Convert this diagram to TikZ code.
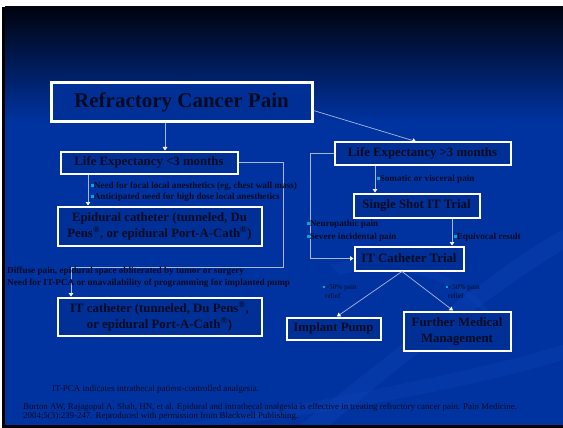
\documentclass[tikz,border=0pt]{standalone}
\usepackage{fontspec}
\setmainfont{Liberation Serif}
\usetikzlibrary{arrows.meta,calc}
\definecolor{bgblue}{HTML}{0033A0}
\definecolor{bgtop}{HTML}{00030E}
\definecolor{txtnavy}{HTML}{050A22}
\definecolor{linec}{HTML}{A8B8DC}
\definecolor{bullc}{HTML}{00A8D8}
\definecolor{swoosh}{HTML}{0B3DAE}
\tikzset{
  box/.style={draw=white, line width=2pt, fill=bgblue!94!black, text=txtnavy, font=\bfseries, align=center, inner sep=0pt},
  conn/.style={draw=linec, line width=0.7pt},
  arr/.style={conn, -{Triangle[width=4.5pt,length=3.5pt,color=white,fill=white]}},
  lab/.style={text=txtnavy, font=\bfseries\fontsize{9.2}{11}\selectfont, align=left, inner sep=0pt, anchor=west},
  foot/.style={text=txtnavy, font=\fontsize{9}{9}\selectfont, align=left, inner sep=0pt, anchor=west},
  tiny/.style={text=txtnavy, font=\fontsize{7.2}{9}\selectfont, align=left, inner sep=0pt, anchor=west},
  bt/.style={font=\bfseries\fontsize{12.8}{16}\selectfont}
}
\newcommand{\bul}{\textcolor{bullc}{\rule[0.15em]{0.28em}{0.28em}}}
\begin{document}
\begin{tikzpicture}[x=1pt,y=-1pt]
\useasboundingbox (0,0) rectangle (563,428);
% background
\fill[white] (0,0) rectangle (563,428);
\fill[black] (2,7) rectangle (563,428);
\fill[bgblue] (5,120) rectangle (563,425);
\shade[top color=bgtop, bottom color=bgblue] (5,7) rectangle (563,121);
% faint swooshes
\fill[swoosh, opacity=0.6] (300,425) .. controls (420,330) and (520,250) .. (563,230) -- (563,250) .. controls (520,275) and (430,340) .. (330,425) -- cycle;
\fill[swoosh, opacity=0.5] (330,265) .. controls (420,240) and (500,300) .. (500,340) .. controls (490,300) and (420,255) .. (340,275) -- cycle;
\fill[swoosh, opacity=0.5] (180,425) .. controls (330,400) and (480,370) .. (563,345) -- (563,360) .. controls (480,385) and (330,415) .. (220,425) -- cycle;

% nodes
\node[box, line width=3pt, minimum width=261pt, minimum height=39pt, font=\bfseries\fontsize{21}{24}\selectfont] (rcp) at (181.5,102.5) {Refractory Cancer Pain};
\node[box, bt, minimum width=177pt, minimum height=22pt] (le3l) at (149,162.5) {Life Expectancy <3 months};
\node[box, bt, minimum width=204pt, minimum height=39pt] (epi) at (159.5,226) {Epidural catheter (tunneled, Du\\Pens\textsuperscript{®}, or epidural Port-A-Cath\textsuperscript{®})};
\node[box, bt, minimum width=204pt, minimum height=38pt] (itc) at (159.5,316.5) {IT catheter (tunneled, Du Pens\textsuperscript{®},\\or epidural Port-A-Cath\textsuperscript{®})};
\node[box, bt, minimum width=176pt, minimum height=22pt] (le3r) at (422.5,153.5) {Life Expectancy >3 months};
\node[box, bt, minimum width=126pt, minimum height=24pt] (sst) at (416.5,205.5) {Single Shot IT Trial};
\node[box, bt, minimum width=109pt, minimum height=24pt] (itct) at (409,258.5) {IT Catheter Trial};
\node[box, bt, minimum width=94pt, minimum height=22pt] (ip) at (333.5,328.5) {Implant Pump};
\node[box, bt, minimum width=107pt, minimum height=39pt] (fmm) at (457,331) {Further Medical\\Management};

% helper coordinates
\coordinate (x165) at (165,0);
\coordinate (x88) at (88,0);
\coordinate (x71) at (71,0);
\coordinate (x283) at (283,0);
\coordinate (x310) at (310,0);
\coordinate (x375) at (375,0);
\coordinate (x452) at (452,0);
\coordinate (x416) at (416,0);
\coordinate (y267) at (0,267);
\coordinate (rcpo) at ([yshift=-8pt]rcp.east);
\coordinate (ipt) at (337,0);
\coordinate (fmt) at (453,0);
\coordinate (apex) at (402,0);

% connectors
\draw[arr] (rcp.south -| x165) -- (le3l.north -| x165);
\draw[arr] (rcpo) -- (le3r.north -| x416);
\draw[arr] (le3l.south -| x88) -- (epi.north -| x88);
\draw[arr] (le3l.east) -- (le3l.east -| x283) -- (x283 |- y267) -- (x71 |- y267) -- (itc.north -| x71);
\draw[arr] (le3r.south -| x375) -- (sst.north -| x375);
\draw[arr] (sst.south -| x452) -- (itct.north -| x452);
\draw[arr] (le3r.west) -- (le3r.west -| x310) -- (x310 |- itct.west) -- (itct.west);
\draw[arr] (itct.south -| apex) -- (ip.north -| ipt);
\draw[arr] (itct.south -| apex) -- (fmm.north -| fmt);

% labels
\node[lab] (l1) at (91,186) {\bul Need for focal local anesthetics (eg, chest wall mass)};
\node[lab] (l2) at (91,197) {\bul Anticipated need for high dose local anesthetics};
\node[lab] (l3) at (7,271) {Diffuse pain, epidural space obliterated by tumor or surgery};
\node[lab] (l4) at (7,283) {Need for IT-PCA or unavailability of programming for implanted pump};
\node[lab] (l5) at (377,179) {\bul Somatic or visceral pain};
\node[lab] (l6) at (307,224) {\bul Neuropathic pain};
\node[lab] (l7) at (307,237) {\bul Severe incidental pain};
\node[lab] (l8) at (454,237) {\bul Equivocal result};
\node[tiny] (l9) at (323,291.5) {\bul >50\% pain\\\phantom{\bul}relief};
\node[tiny] (l10) at (446,291.5) {\bul <50\% pain\\\phantom{\bul}relief};

% footer
\node[foot] (f1) at (52,389) {IT-PCA indicates intrathecal patient-controlled analgesia.};
\node[foot, font=\fontsize{8.9}{8.8}\selectfont] (f2) at (23,412) {Burton AW, Rajagopal A, Shah, HN, et al. Epidural and intrathecal analgesia is effective in treating refractory cancer pain. Pain Medicine.\\2004;5(3):239-247. Reproduced with permission from Blackwell Publishing.};
\end{tikzpicture}
\end{document}
